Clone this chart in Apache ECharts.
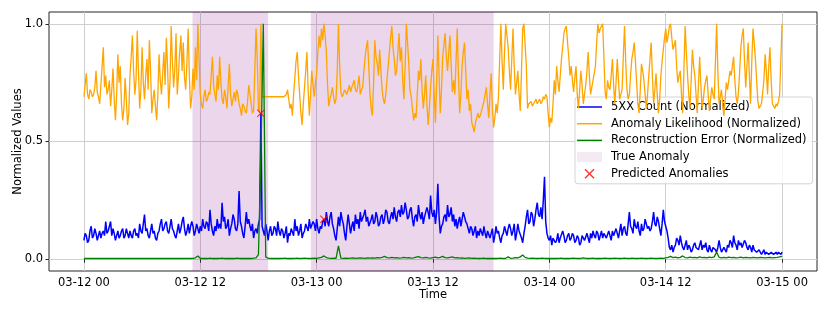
<!DOCTYPE html>
<html><head><meta charset="utf-8">
<script src="https://cdn.jsdelivr.net/npm/echarts@6/dist/echarts.min.js"></script>
<style>html,body{margin:0;padding:0;background:#fff}#c{width:830px;height:312px}</style>
</head><body><div id="c"></div>
<script>
// time base: samples from 03-12 00:00 (5XX and likelihood every 7.5 min, reconstruction error every 15 min)
const START = Date.UTC(2024, 2, 12, 0, 0);
const STEP_FINE_MIN = 7.5;
const STEP_ERR_MIN = 15;

const count5xx = [
0.08,0.11,0.10,0.07,0.08,0.12,0.14,0.09,0.10,0.13,0.11,0.08,0.10,0.12,0.09,0.11,0.12,0.10,0.16,0.11,0.12,0.14,0.16,0.10,0.13,0.11,0.08,0.10,0.12,0.09,0.10,0.12,0.13,0.09,0.10,0.13,0.11,0.09,0.12,0.10,0.09,0.12,0.13,0.10,0.11,0.09,0.15,0.12,
0.11,0.15,0.19,0.12,0.13,0.10,0.09,0.12,0.15,0.11,0.12,0.09,0.08,0.11,0.12,0.15,0.17,0.12,0.13,0.15,0.16,0.12,0.11,0.14,0.17,0.13,0.12,0.10,0.09,0.12,0.15,0.11,0.13,0.16,0.18,0.13,0.10,0.12,0.15,0.11,0.14,0.16,0.14,0.10,0.12,0.15,0.13,0.11,
0.14,0.12,0.17,0.14,0.13,0.16,0.15,0.12,0.21,0.15,0.12,0.10,0.14,0.12,0.17,0.13,0.15,0.13,0.24,0.16,0.18,0.13,0.14,0.17,0.10,0.13,0.15,0.19,0.17,0.13,0.12,0.15,0.29,0.16,0.14,0.11,0.09,0.14,0.20,0.15,0.17,0.14,0.12,0.15,0.09,0.12,0.13,0.11,
0.15,0.17,0.62,0.14,0.12,0.10,0.15,0.12,0.08,0.12,0.14,0.10,0.11,0.14,0.13,0.10,0.16,0.12,0.10,0.13,0.12,0.09,0.11,0.14,0.07,0.11,0.10,0.13,0.13,0.10,0.17,0.12,0.14,0.10,0.12,0.15,0.09,0.11,0.12,0.15,0.15,0.12,0.17,0.13,0.13,0.16,0.15,0.12,
0.17,0.13,0.11,0.14,0.13,0.16,0.17,0.14,0.20,0.16,0.14,0.18,0.20,0.15,0.13,0.10,0.08,0.13,0.18,0.14,0.20,0.17,0.15,0.11,0.08,0.14,0.19,0.15,0.11,0.14,0.16,0.12,0.19,0.15,0.17,0.13,0.20,0.16,0.16,0.19,0.21,0.16,0.18,0.14,0.14,0.17,0.19,0.15,
0.16,0.20,0.18,0.14,0.15,0.18,0.19,0.15,0.17,0.21,0.20,0.16,0.15,0.18,0.20,0.17,0.22,0.18,0.16,0.20,0.21,0.18,0.23,0.19,0.20,0.24,0.21,0.17,0.18,0.21,0.22,0.17,0.14,0.18,0.19,0.16,0.23,0.19,0.17,0.20,0.15,0.18,0.18,0.22,0.20,0.17,0.27,0.20,
0.18,0.21,0.15,0.20,0.32,0.18,0.11,0.14,0.15,0.18,0.19,0.16,0.23,0.18,0.19,0.22,0.16,0.19,0.14,0.17,0.13,0.16,0.18,0.14,0.17,0.20,0.20,0.16,0.15,0.13,0.11,0.14,0.13,0.10,0.12,0.14,0.09,0.12,0.10,0.13,0.13,0.10,0.14,0.11,0.09,0.12,0.12,0.09,
0.11,0.13,0.07,0.10,0.14,0.11,0.12,0.09,0.07,0.10,0.11,0.14,0.12,0.10,0.13,0.15,0.13,0.10,0.12,0.15,0.08,0.11,0.15,0.12,0.12,0.09,0.07,0.11,0.14,0.18,0.21,0.15,0.16,0.20,0.19,0.14,0.17,0.21,0.24,0.19,0.18,0.22,0.17,0.25,0.35,0.16,0.11,0.09,
0.08,0.10,0.06,0.09,0.09,0.07,0.08,0.11,0.07,0.09,0.09,0.12,0.10,0.07,0.08,0.10,0.11,0.08,0.09,0.11,0.10,0.07,0.08,0.10,0.09,0.06,0.07,0.10,0.10,0.08,0.08,0.11,0.09,0.07,0.11,0.09,0.12,0.10,0.09,0.12,0.11,0.08,0.10,0.12,0.09,0.11,0.11,0.09,
0.09,0.12,0.10,0.08,0.12,0.10,0.10,0.13,0.13,0.09,0.12,0.15,0.10,0.13,0.14,0.11,0.10,0.15,0.20,0.14,0.13,0.11,0.17,0.14,0.13,0.16,0.12,0.10,0.15,0.12,0.13,0.17,0.17,0.13,0.14,0.12,0.13,0.16,0.20,0.15,0.14,0.18,0.16,0.13,0.10,0.15,0.21,0.16,
0.16,0.12,0.09,0.05,0.04,0.06,0.03,0.05,0.06,0.09,0.08,0.06,0.10,0.07,0.05,0.04,0.06,0.08,0.04,0.06,0.05,0.03,0.04,0.06,0.07,0.05,0.05,0.04,0.06,0.08,0.04,0.06,0.05,0.07,0.04,0.03,0.06,0.04,0.03,0.05,0.05,0.04,0.03,0.05,0.08,0.05,0.03,0.04,
0.05,0.04,0.03,0.06,0.05,0.08,0.07,0.05,0.10,0.07,0.06,0.04,0.08,0.06,0.07,0.05,0.05,0.08,0.07,0.05,0.04,0.06,0.05,0.03,0.06,0.04,0.04,0.03,0.03,0.04,0.04,0.02,0.03,0.04,0.02,0.03,0.03,0.02,0.02,0.03,0.03,0.02,0.02,0.03,0.02,0.03,0.03,0.02,
0.03];

const anomalyLikelihood = [
0.69,0.74,0.79,0.70,0.68,0.72,0.71,0.69,0.70,0.73,0.80,0.71,0.69,0.66,0.74,0.82,0.90,0.73,0.78,0.70,0.72,0.76,0.65,0.72,0.81,0.68,0.59,0.70,0.87,0.75,0.82,0.66,0.59,0.64,0.77,0.68,0.57,0.62,0.78,0.86,0.95,0.80,0.70,0.76,0.97,0.80,0.64,0.72,
0.90,0.75,0.68,0.78,0.85,0.72,0.93,0.80,0.62,0.68,0.72,0.65,0.59,0.70,0.87,0.76,0.70,0.79,0.88,0.74,0.94,0.82,0.64,0.75,0.99,0.84,0.73,0.81,0.96,0.70,0.78,0.88,0.95,0.80,0.92,0.77,0.72,0.84,0.98,0.78,0.64,0.69,0.81,0.72,0.90,0.76,1.00,0.85,
0.70,0.66,0.64,0.69,0.72,0.67,0.68,0.71,0.70,0.78,0.86,0.74,0.70,0.67,0.78,0.72,0.86,0.75,0.68,0.66,0.72,0.69,0.64,0.74,0.83,0.70,0.65,0.68,0.71,0.67,0.72,0.70,0.66,0.64,0.61,0.66,0.65,0.63,0.62,0.67,0.74,0.70,0.66,0.62,0.63,0.80,0.98,0.85,
0.64,0.62,1.00,0.69,0.69,0.69,0.69,0.69,0.69,0.69,0.69,0.69,0.69,0.69,0.69,0.69,0.69,0.69,0.69,0.69,0.69,0.69,0.69,0.70,0.72,0.68,0.64,0.66,0.61,0.70,0.77,0.84,0.88,0.78,0.70,0.62,0.57,0.66,0.73,0.80,0.88,0.72,0.61,0.70,0.80,0.74,0.69,0.75,
0.79,0.88,0.95,0.90,0.98,0.93,1.00,0.95,0.88,0.74,0.65,0.68,0.70,0.73,0.69,0.66,0.68,0.80,1.00,0.82,0.71,0.69,0.70,0.72,0.71,0.70,0.72,0.74,0.71,0.73,0.73,0.76,0.72,0.71,0.74,0.78,0.70,0.72,0.73,0.80,0.86,0.90,0.93,0.82,0.70,0.64,0.61,0.75,
0.93,0.86,0.83,0.78,0.89,0.80,0.72,0.68,0.66,0.70,0.76,0.82,0.88,0.94,0.99,0.90,0.85,0.78,0.80,0.88,0.96,0.84,0.90,0.76,0.68,0.82,1.00,0.92,0.83,0.72,0.69,0.64,0.59,0.62,0.60,0.70,0.80,0.76,0.85,0.72,0.64,0.70,0.78,0.66,0.57,0.64,0.73,0.80,
0.85,0.70,0.58,0.75,0.95,0.78,0.62,0.72,0.86,0.91,0.96,0.86,0.80,0.88,0.95,0.82,0.71,0.76,0.70,0.84,0.98,0.78,0.62,0.70,0.82,0.88,0.92,0.80,0.68,0.72,0.63,0.66,0.58,0.56,0.54,0.58,0.60,0.62,0.60,0.61,0.63,0.65,0.67,0.70,0.73,0.66,0.60,0.70,
0.79,0.64,0.56,0.60,0.66,0.62,0.69,0.85,1.00,0.84,0.72,0.88,1.00,0.95,0.90,0.80,0.72,0.85,0.98,0.82,0.70,0.75,0.80,0.70,0.63,0.80,0.98,1.00,1.00,0.82,0.64,0.66,0.66,0.67,0.65,0.66,0.67,0.68,0.66,0.67,0.68,0.66,0.67,0.69,0.68,0.70,0.69,0.62,
0.56,0.60,0.58,0.66,0.76,0.70,0.82,0.76,0.71,0.78,0.85,0.90,0.96,0.98,0.99,0.92,0.86,0.78,0.82,0.76,0.71,0.77,0.82,0.70,0.64,0.72,0.80,0.74,0.66,0.70,0.74,0.80,0.88,0.78,0.70,0.73,0.76,0.79,0.82,0.92,1.00,0.96,0.98,0.99,1.00,0.86,0.71,0.68,
0.76,0.73,0.72,0.78,0.85,0.74,0.66,0.75,0.85,0.76,0.68,0.70,0.72,0.86,0.99,0.84,0.72,0.68,0.70,0.78,0.85,0.88,0.92,0.84,0.75,0.66,0.62,0.72,0.83,0.80,0.76,0.70,0.64,0.70,0.78,0.85,0.92,0.78,0.66,0.72,0.79,0.70,0.62,0.68,0.78,0.84,0.89,0.94,
0.98,0.92,0.95,0.99,1.00,0.94,0.89,0.91,0.93,0.82,0.75,0.78,0.80,0.70,0.62,0.80,0.99,0.88,0.78,0.70,0.64,0.76,0.89,0.82,0.78,0.70,0.62,0.74,0.86,0.74,0.64,0.68,0.73,0.76,0.78,0.70,0.63,0.68,0.73,0.70,0.68,0.84,1.00,0.80,0.66,0.69,0.72,0.66,
0.61,0.68,0.75,0.72,0.76,0.80,0.78,0.82,0.86,0.76,0.69,0.66,0.71,0.80,0.90,0.95,0.98,0.84,0.73,0.82,0.92,0.78,0.66,0.84,0.98,0.92,0.85,0.76,0.67,0.64,0.64,0.66,0.66,0.76,0.87,0.80,0.70,0.82,0.90,0.76,0.66,0.65,0.64,0.66,0.65,0.67,0.70,0.85,
1.00];

const reconError = [
0.003,0.003,0.003,0.003,0.003,0.003,0.003,0.003,0.003,0.003,0.003,0.003,0.003,0.003,0.003,0.003,0.003,0.003,0.003,0.003,0.003,0.003,0.003,0.003,
0.003,0.003,0.003,0.003,0.003,0.003,0.003,0.003,0.003,0.003,0.003,0.003,0.003,0.003,0.003,0.003,0.003,0.003,0.003,0.003,0.003,0.004,0.006,0.014,
0.004,0.003,0.004,0.003,0.005,0.003,0.004,0.003,0.004,0.005,0.003,0.004,0.003,0.004,0.003,0.005,0.004,0.003,0.004,0.003,0.004,0.003,0.005,0.006,
0.02,0.44,1.00,0.01,0.004,0.003,0.004,0.003,0.004,0.003,0.004,0.005,0.003,0.004,0.003,0.004,0.005,0.003,0.004,0.005,0.004,0.003,0.004,0.005,
0.004,0.006,0.008,0.014,0.007,0.005,0.004,0.005,0.004,0.057,0.005,0.004,0.005,0.004,0.005,0.006,0.004,0.005,0.006,0.005,0.004,0.006,0.005,0.006,
0.005,0.007,0.006,0.008,0.012,0.007,0.006,0.008,0.006,0.007,0.005,0.006,0.008,0.006,0.007,0.005,0.006,0.009,0.011,0.007,0.006,0.008,0.006,0.005,
0.007,0.009,0.006,0.008,0.012,0.007,0.006,0.008,0.010,0.006,0.007,0.005,0.006,0.004,0.005,0.006,0.004,0.005,0.004,0.003,0.004,0.005,0.003,0.004,
0.003,0.004,0.003,0.004,0.005,0.003,0.004,0.010,0.004,0.005,0.007,0.006,0.010,0.018,0.008,0.005,0.004,0.005,0.004,0.003,0.004,0.005,0.004,0.003,
0.004,0.003,0.004,0.003,0.004,0.005,0.003,0.004,0.003,0.004,0.005,0.004,0.003,0.004,0.006,0.004,0.003,0.004,0.005,0.003,0.004,0.003,0.004,0.005,
0.004,0.003,0.004,0.005,0.004,0.003,0.004,0.005,0.004,0.003,0.005,0.004,0.003,0.004,0.005,0.004,0.003,0.004,0.005,0.004,0.003,0.004,0.005,0.004,
0.006,0.008,0.012,0.007,0.009,0.006,0.008,0.014,0.007,0.006,0.009,0.007,0.008,0.006,0.010,0.007,0.008,0.006,0.009,0.007,0.010,0.030,0.008,0.006,
0.008,0.006,0.009,0.007,0.008,0.006,0.007,0.009,0.006,0.008,0.007,0.006,0.008,0.007,0.006,0.008,0.007,0.006,0.007,0.008,0.006,0.007,0.008,0.010,
0.012];

const predictedIdx = [146, 198];   // indices into count5xx
const trueAnomalyRanges = [['03-12 11:12', '03-12 19:00'], ['03-12 23:24', '03-13 18:15']];
const xTickLabels = ['03-12 00', '03-12 12', '03-13 00', '03-13 12', '03-14 00', '03-14 12', '03-15 00'];
const yTickLabels = ['0.0', '0.5', '1.0'];
const seriesNames = ['5XX Count (Normalized)', 'Anomaly Likelihood (Normalized)', 'Reconstruction Error (Normalized)', 'True Anomaly', 'Predicted Anomalies'];

const tf = i => START + i * STEP_FINE_MIN * 60000;
const te = i => START + i * STEP_ERR_MIN * 60000;
const parseMD = s => {
  const [md, hm] = s.split(' ');
  const [m, d] = md.split('-').map(Number);
  const [h, mi] = hm.split(':').map(Number);
  return Date.UTC(2024, m - 1, d, h, mi || 0);
};
const p2 = n => String(n).padStart(2, '0');
const fmt = v => { const d = new Date(v); return p2(d.getUTCMonth() + 1) + '-' + p2(d.getUTCDate()) + ' ' + p2(d.getUTCHours()); };
const xTickVals = xTickLabels.map(parseMD);
const yTickVals = yTickLabels.map(Number);
const HOUR = 3600000;

const FONT = 'DejaVu Sans';
const XSYM = 'path://M0,1L1,0L5,4L9,0L10,1L6,5L10,9L9,10L5,6L1,10L0,9L4,5Z';
const LINE_ICON = 'path://M0,0L25,0L25,1.5L0,1.5Z';

const chart = echarts.init(document.getElementById('c'), null, {renderer: 'canvas'});
chart.setOption({
  animation: false,
  backgroundColor: '#fff',
  grid: {left: 49, right: 13, top: 12, bottom: 41, outerBoundsMode: 'none', containLabel: false,
    show: true, borderColor: '#262626', borderWidth: 1, backgroundColor: 'transparent'},
  xAxis: {
    type: 'value', min: xTickVals[0] - 3.6 * HOUR, max: xTickVals[xTickVals.length - 1] + 3.6 * HOUR,
    axisLine: {show: false},
    axisTick: {show: true, length: 3.5, customValues: xTickVals, lineStyle: {color: '#262626', width: 1}},
    axisLabel: {customValues: xTickVals, formatter: v => fmt(v), margin: 6, fontSize: 11.5, color: '#000', fontFamily: FONT, hideOverlap: false, showMinLabel: true, showMaxLabel: true},
    splitLine: {show: true, lineStyle: {color: '#cfcfcf', width: 1}},
    name: 'Time', nameLocation: 'middle', nameGap: 18, nameMoveOverlap: false,
    nameTextStyle: {fontSize: 11.5, color: '#000', fontFamily: FONT}
  },
  yAxis: {
    type: 'value', min: -0.05, max: 1.05,
    axisLine: {show: false},
    axisTick: {show: true, length: 3.5, customValues: yTickVals, lineStyle: {color: '#262626', width: 1}},
    axisLabel: {customValues: yTickVals, formatter: v => v.toFixed(1), margin: 6, fontSize: 11.5, color: '#000', fontFamily: FONT},
    splitLine: {show: true, lineStyle: {color: '#cfcfcf', width: 1}},
    name: 'Normalized Values', nameLocation: 'middle', nameGap: 25, nameRotate: 90, nameMoveOverlap: false,
    nameTextStyle: {fontSize: 11.5, color: '#000', fontFamily: FONT}
  },
  legend: {
    orient: 'vertical', left: 575, top: 97,
    itemWidth: 25, itemHeight: 10, itemGap: 4.7,
    padding: [4, 6, 4, 2],
    backgroundColor: 'rgba(255,255,255,0.8)', borderColor: '#d4d4d4', borderWidth: 1, borderRadius: 3,
    textStyle: {fontFamily: FONT, fontSize: 11.5, color: '#000', lineHeight: 12, padding: [0, 0, 0, 4]},
    data: [
      {name: seriesNames[0], icon: LINE_ICON},
      {name: seriesNames[1], icon: LINE_ICON},
      {name: seriesNames[2], icon: LINE_ICON},
      {name: seriesNames[3], icon: 'rect', itemStyle: {color: '#f3eaf4'}},
      {name: seriesNames[4]}
    ]
  },
  series: [
    {
      name: seriesNames[0], type: 'line', data: count5xx.map((v, i) => [tf(i), v]), symbol: 'none',
      lineStyle: {color: '#0000ff', width: 1.5}, itemStyle: {color: '#0000ff'}, z: 3,
      markArea: {
        silent: true, itemStyle: {color: 'rgba(128,0,128,0.16)'},
        data: trueAnomalyRanges.map(r => [{xAxis: parseMD(r[0])}, {xAxis: parseMD(r[1])}])
      }
    },
    {name: seriesNames[1], type: 'line', data: anomalyLikelihood.map((v, i) => [tf(i), v]), symbol: 'none',
      lineStyle: {color: '#ffa500', width: 1.3}, itemStyle: {color: '#ffa500'}, z: 4},
    {name: seriesNames[2], type: 'line', data: reconError.map((v, i) => [te(i), v]), symbol: 'none',
      lineStyle: {color: '#008000', width: 1.3}, itemStyle: {color: '#008000'}, z: 5},
    {name: seriesNames[3], type: 'line', data: [], symbol: 'none', itemStyle: {color: '#f3eaf4'}, lineStyle: {width: 0}},
    {name: seriesNames[4], type: 'scatter', symbol: XSYM, symbolSize: 8, z: 6,
      itemStyle: {color: '#ff0000'},
      data: predictedIdx.map(i => [tf(i), count5xx[i]])}
  ]
});
</script></body></html>
